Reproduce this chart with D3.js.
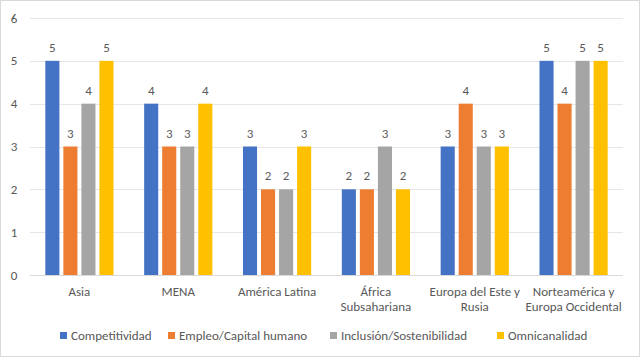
<!DOCTYPE html>
<html>
<head>
<meta charset="utf-8">
<script src="https://cdn.jsdelivr.net/npm/d3@7"></script>
<style>
  body { margin: 0; background: #fff; }
  text { font-family: Carlito, "Open Sans", "Liberation Sans", sans-serif; fill: #595959; }
</style>
</head>
<body>
<svg></svg>
<script>
// Regiones y puntuaciones
const categories = [
  ['Asia'],
  ['MENA'],
  ['América Latina'],
  ['África', 'Subsahariana'],
  ['Europa del Este y', 'Rusia'],
  ['Norteamérica y', 'Europa Occidental']
];
const seriesNames = ['Competitividad', 'Empleo/Capital humano', 'Inclusión/Sostenibilidad', 'Omnicanalidad'];
const competitividad = [5, 4, 3, 2, 3, 5];
const empleo = [3, 3, 2, 2, 4, 4];
const inclusion = [4, 3, 2, 3, 3, 5];
const omnicanalidad = [5, 4, 3, 2, 3, 5];
const yTicks = [0, 1, 2, 3, 4, 5, 6];
const colors = ['#4472C4', '#ED7D31', '#A5A5A5', '#FFC000'];

const allSeries = [competitividad, empleo, inclusion, omnicanalidad];

const WIDTH = 641, HEIGHT = 358;
const LEFT = 30, RIGHT = 623, TOP = 18, BOTTOM = 275;
const FONT = '13px';

const svg = d3.select('svg').attr('width', WIDTH).attr('height', HEIGHT);

// chart border
svg.append('rect').attr('x', 0.5).attr('y', 0.5)
   .attr('width', WIDTH - 2).attr('height', HEIGHT - 2)
   .attr('fill', '#fff').attr('stroke', '#d9d9d9');

const x0 = d3.scaleBand().domain(d3.range(categories.length)).range([LEFT, RIGHT]).paddingInner(0.31).paddingOuter(0.155);
const x1 = d3.scaleBand().domain(d3.range(seriesNames.length)).range([0, x0.bandwidth()]).paddingInner(0.22);
const y = d3.scaleLinear().domain([0, 6]).range([BOTTOM, TOP]);

// gridlines
svg.append('g').selectAll('line').data(yTicks).enter().append('line')
   .attr('x1', LEFT).attr('x2', RIGHT)
   .attr('y1', d => Math.round(y(d)) + 0.5).attr('y2', d => Math.round(y(d)) + 0.5)
   .attr('stroke', d => d === 0 ? '#d9d9d9' : '#e6e6e6');

// y tick labels
svg.append('g').selectAll('text').data(yTicks).enter().append('text')
   .attr('x', 14).attr('y', d => y(d) + 4.5)
   .style('text-anchor', 'middle').style('font-size', FONT)
   .text(d => d);

// bars
const groups = svg.append('g').selectAll('g').data(categories).enter().append('g')
   .attr('transform', (d, i) => `translate(${x0(i)},0)`);

groups.each(function (cat, ci) {
  const g = d3.select(this);
  const vals = allSeries.map(s => s[ci]);
  g.selectAll('rect').data(vals).enter().append('rect')
   .attr('x', (d, si) => x1(si)).attr('width', x1.bandwidth())
   .attr('y', d => y(d)).attr('height', d => y(0) - y(d))
   .attr('fill', (d, si) => colors[si]);
  g.selectAll('text.lbl').data(vals).enter().append('text')
   .attr('class', 'lbl')
   .attr('x', (d, si) => x1(si) + x1.bandwidth() / 2).attr('y', d => y(d) - 9)
   .style('text-anchor', 'middle').style('font-size', FONT)
   .text(d => d);
});

// category labels
const catLabels = svg.append('g').selectAll('text').data(categories).enter().append('text')
   .attr('x', (d, i) => x0(i) + x0.bandwidth() / 2).attr('y', 296)
   .style('text-anchor', 'middle').style('font-size', FONT);
catLabels.selectAll('tspan').data(d => d).enter().append('tspan')
   .attr('x', function () { return this.parentNode.getAttribute('x'); })
   .attr('dy', (d, i) => i === 0 ? 0 : 15)
   .text(d => d);

// legend
const legendX = [60, 168, 330, 497];
const legend = svg.append('g').selectAll('g').data(seriesNames).enter().append('g')
   .attr('transform', (d, i) => `translate(${legendX[i]},332)`);
legend.append('rect').attr('width', 7).attr('height', 7).attr('fill', (d, i) => colors[i]);
legend.append('text').attr('x', 11).attr('y', 8).style('font-size', FONT).text(d => d);
</script>
</body>
</html>
